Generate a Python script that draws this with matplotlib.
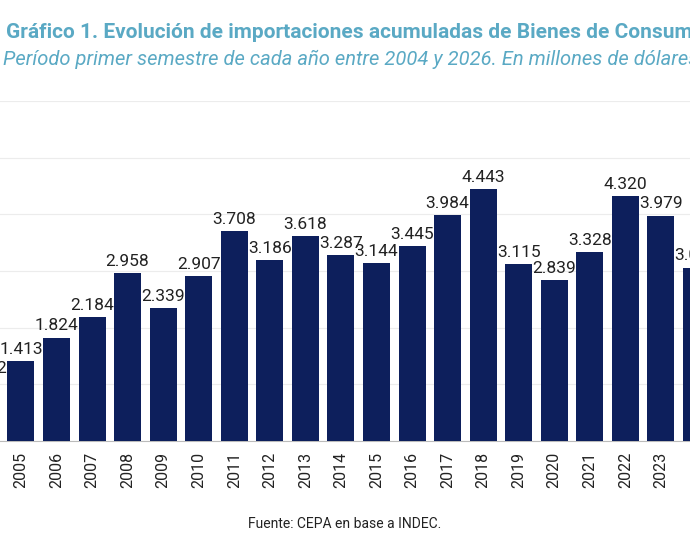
import matplotlib
matplotlib.use("Agg")
import matplotlib.pyplot as plt

years = list(range(2004, 2025))
values = [1082, 1413, 1824, 2184, 2958, 2339, 2907, 3708, 3186, 3618, 3287,
          3144, 3445, 3984, 4443, 3115, 2839, 3328, 4320, 3979, 3060]
labels = [f"{v / 1000:.3f}" for v in values]

NAVY = "#0d1f5c"
TEAL = "#5aa9c4"

plt.rcParams["font.family"] = ["Roboto", "DejaVu Sans"]

fig = plt.figure(figsize=(6.9, 5.5), dpi=100)
ax = fig.add_axes([0, 109 / 550, 1, 340 / 550])
ax.bar(years, values, width=0.76, color=NAVY, zorder=3)
for x, v, lab in zip(years, values, labels):
    ax.annotate(lab, (x, v), xytext=(0, 3), textcoords="offset points",
                ha="center", va="bottom", fontsize=12.5, color="#222222",
                annotation_clip=False)

ax.set_yticks(range(0, 6001, 1000))
ax.set_yticklabels([])
ax.tick_params(axis="y", length=0)
ax.grid(axis="y", color="#ececec", lw=0.8, zorder=0)
ax.set_xticks(years)
ax.set_xticklabels([str(y) for y in years], rotation=90, fontsize=11.5,
                   color="#222222")
ax.tick_params(axis="x", length=0, pad=8)
# the source image is a crop: 2004 and 2024 fall off the edges
ax.set_xlim(2004.41, 2023.82)
ax.set_ylim(0, 6000)
for s in ("top", "right", "left"):
    ax.spines[s].set_visible(False)
ax.spines["bottom"].set_color("#bbbbbb")

fig.text(0.008, 1 - 32 / 550, "Gráfico 1. Evolución de importaciones acumuladas de Bienes de Consumo",
         fontsize=15, fontweight="bold", color=TEAL, va="center")
fig.text(0.004, 1 - 59 / 550, "Período primer semestre de cada año entre 2004 y 2026. En millones de dólares.",
         fontsize=14.5, style="italic", color=TEAL, va="center")
fig.text(0.5, 1 - 524 / 550, "Fuente: CEPA en base a INDEC.", fontsize=10,
         color="#222222", ha="center", va="center")

fig.savefig("out.png", dpi=100)
